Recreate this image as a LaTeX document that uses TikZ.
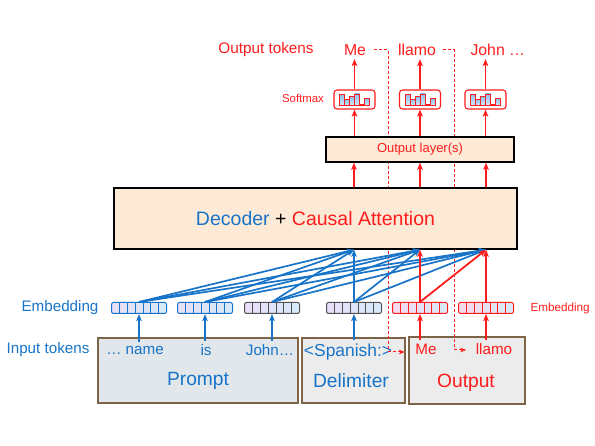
\documentclass[tikz,border=0pt]{standalone}
\usepackage{fontspec}
\setmainfont{Liberation Sans}
\usetikzlibrary{arrows.meta}
\definecolor{mblue}{RGB}{24,116,200}
\definecolor{mred}{RGB}{255,28,28}
\definecolor{peach}{RGB}{253,234,214}
\definecolor{pfill}{RGB}{226,231,235}
\definecolor{gfill}{RGB}{236,236,236}
\definecolor{brownb}{RGB}{125,100,70}
\definecolor{lav}{RGB}{234,222,248}
\definecolor{lbl}{RGB}{214,234,250}
\definecolor{pinkl}{RGB}{246,218,240}
\definecolor{dgray}{RGB}{80,80,80}
\definecolor{barblue}{RGB}{140,190,240}
\tikzset{
  fs/.style={font=\fontsize{#1}{#1}\selectfont},
  emb/.style={draw=#1, line width=1pt, rounded corners=2pt, minimum width=55pt, minimum height=11pt, inner sep=0pt,
    right color=lbl,
    path picture={\foreach \i in {1,...,6}{\draw[#1, line width=0.8pt] ([xshift=\i*55pt/7]path picture bounding box.south west) -- ([xshift=\i*55pt/7]path picture bounding box.north west);}}},
  smx/.style={draw=mred, line width=1.1pt, rounded corners=3pt, minimum width=41pt, minimum height=19pt, inner sep=0pt, fill=white},
  bigbox/.style={draw=black, line width=1.4pt, fill=peach, inner sep=0pt},
  inbox/.style={draw=brownb, line width=1.3pt, inner sep=0pt},
  barrow/.style={draw=mblue, line width=1.7pt, -{Stealth[length=7pt,width=5.5pt,inset=1.5pt]}},
  rarrow/.style={draw=mred, line width=1.8pt, -{Stealth[length=7pt,width=5.5pt,inset=1.5pt]}},
  rdash/.style={draw=mred, line width=1pt, dash pattern=on 3pt off 2pt},
}
\newcommand\smbars[1]{\begin{scope}[shift={(#1)}]
  \foreach \xa/\h in {-15/11, -10/6, -5/9, 0/11.5, 5/1.5, 10/7}{
    \draw[mred, line width=0.6pt, top color=barblue, bottom color=lbl] (\xa,6) rectangle ++(5,-\h);}
\end{scope}}
\begin{document}
\begin{tikzpicture}[x=1pt,y=-1pt]
\useasboundingbox (0,0) rectangle (595,446);
% bottom boxes
\node[inbox, fill=pfill, minimum width=200pt, minimum height=65pt] (pbox) at (198,370.5) {};
\node[inbox, fill=gfill, minimum width=103pt, minimum height=65pt] (dbox) at (353.5,370.5) {};
\node[inbox, fill=gfill, minimum width=116pt, minimum height=67pt] (obox) at (467,370.5) {};
\node[fs=19.2, text=mblue] (plab) at (198,381) {Prompt};
\node[fs=19.2, text=mblue] (dlab) at (351,381) {Delimiter};
\node[fs=19.2, text=mred] (olab) at (466,383) {Output};
% input tokens
\node[fs=15.2, text=mblue] (inlab) at (48,350) {Input tokens};
\node[fs=15.2, text=mblue] (tname) at (135,350) {… name};
\node[fs=15.2, text=mblue] (tis) at (206,350) {is};
\node[fs=15.2, text=mblue] (tjohn) at (270,350) {John…};
\node[fs=17.4, text=mblue] (tspan) at (348,352) {<Spanish:>};
\node[fs=15.2, text=mred] (tMe) at (426,349) {Me};
\node[fs=15.2, text=mred] (tllamo) at (494,349) {llamo};
% embeddings
\node[fs=15.2, text=mblue] (elab) at (60,308) {Embedding};
\node[fs=11.7, text=mred, anchor=west] (elab2) at (527,308) {Embedding};
\node[emb=mblue, left color=lav] (e1) at (139,308) {};
\node[emb=mblue, left color=lav] (e2) at (205,308) {};
\node[emb=dgray, left color=lav] (e3) at (272,308) {};
\node[emb=dgray, left color=lav] (e4) at (354,308) {};
\node[emb=mred, left color=pinkl] (e5) at (420,308) {};
\node[emb=mred, left color=pinkl] (e6) at (486,308) {};
% output tokens
\node[fs=15.3, text=mred] (otl) at (266,50) {Output tokens};
\node[fs=15.8, text=mred] (o1) at (355,50) {Me};
\node[fs=15.8, text=mred] (o2) at (417,50) {llamo};
\node[fs=15.8, text=mred, anchor=west] (o3) at (467,50) {John …};
% dashed feedback
\coordinate (k1) at (388,352);
\coordinate (k2) at (454,350);
\draw[rdash, shorten <=4pt] (o1.east) -| (k1);
\draw[rdash, -{Stealth[length=6pt,width=4.5pt,inset=1.5pt]}, shorten >=7pt] (k1) -- (k1 -| tMe.west);
\draw[rdash, shorten <=4pt] (o2.east) -| (k2);
\draw[rdash, -{Stealth[length=6pt,width=4.5pt,inset=1.5pt]}, shorten >=6pt] (k2) -- (k2 -| tllamo.west);
% main boxes
\node[bigbox, minimum width=403pt, minimum height=61pt, fs=19.5] (dec) at (315.5,218.5)
  {{\color{mblue}Decoder} + {\color{mred}Causal Attention}};
\node[bigbox, minimum width=188pt, minimum height=25pt, fs=13, text=mred] (ol) at (420,149.5) {Output layer(s)};
% softmax
\node[fs=11.4, text=mred] (smlab) at (303,98) {Softmax};
\node[smx] (sm1) at (354.5,99.5) {};
\node[smx] (sm2) at (420,99.5) {};
\node[smx] (sm3) at (485.5,99.5) {};
\smbars{sm1.center}
\smbars{sm2.center}
\smbars{sm3.center}
% vertical red arrows top
\foreach \s/\o in {sm1/o1, sm2/o2, sm3/o3}{
  \draw[rarrow] (ol.north -| \s) -- (\s.south);
  \draw[rarrow] (\s.north) -- (\s.north |- o1.south);
}
\foreach \e in {e4, e5, e6}{
  \draw[rarrow] (dec.north -| \e) -- (ol.south -| \e);
}
% input arrows
\draw[barrow] (tname.north -| e1) -- (e1.south);
\draw[barrow] (tis.north -| e2) -- (e2.south);
\draw[barrow] (tjohn.north -| e3) -- (e3.south);
\draw[barrow] (tspan.north -| e4) -- (e4.south);
\draw[rarrow] (tMe.north -| e5) -- (e5.south);
\draw[rarrow] (tllamo.north -| e6) -- (e6.south);
% attention connections
\foreach \a in {e1, e2, e3, e4}{
  \foreach \b in {e4, e5, e6}{
    \draw[barrow] (\a.north) -- (dec.south -| \b);
  }
}
\draw[rarrow] (e5.north) -- (dec.south -| e5);
\draw[rarrow] (e5.north) -- (dec.south -| e6);
\draw[rarrow] (e6.north) -- (dec.south -| e6);
\end{tikzpicture}
\end{document}
